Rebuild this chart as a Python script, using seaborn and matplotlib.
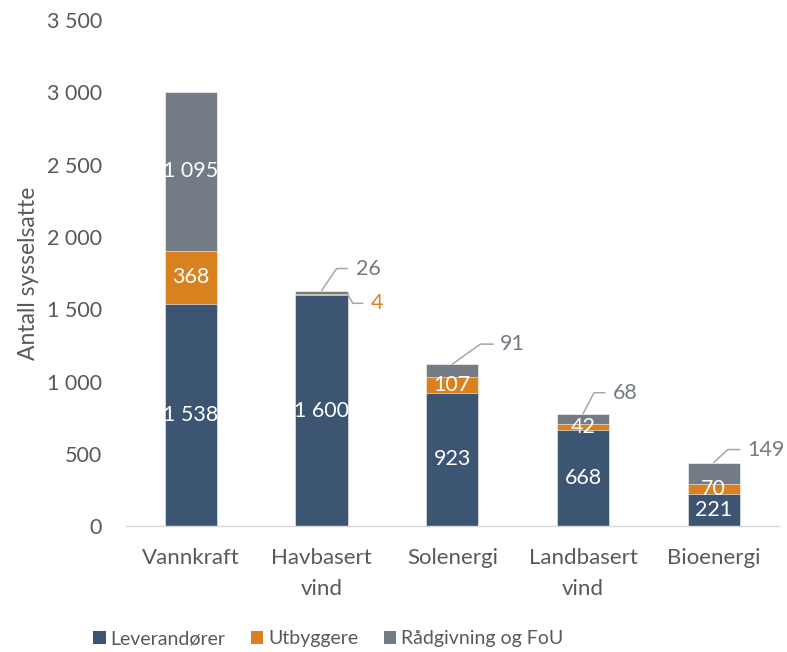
import matplotlib
matplotlib.use("Agg")
import matplotlib.pyplot as plt
import seaborn as sns
import pandas as pd
import numpy as np
from matplotlib.patches import Patch

categories = ["Vannkraft", "Havbasert\nvind", "Solenergi", "Landbasert\nvind", "Bioenergi"]
leverandorer = [1538, 1600, 923, 668, 221]
utbyggere = [368, 4, 107, 42, 70]
radgivning = [1095, 26, 91, 68, 149]
series_names = ["Leverandører", "Utbyggere", "Rådgivning og FoU"]
yticks = [0, 500, 1000, 1500, 2000, 2500, 3000, 3500]

colors = ["#3B5573", "#D9811E", "#737B84"]
txt = "#595959"

sns.set_theme(style="white")
plt.rcParams["font.family"] = ["Lato", "DejaVu Sans"]

df = pd.DataFrame({"kat": categories, "lev": leverandorer, "utb": utbyggere, "rad": radgivning})
df["c1"] = df["lev"]
df["c2"] = df["lev"] + df["utb"]
df["c3"] = df["c2"] + df["rad"]

fig = plt.figure(figsize=(7.87, 6.52), dpi=100)
ax = fig.add_axes([0.1595, 0.193, 0.8305, 0.776])

for col, c in zip(["c3", "c2", "c1"], colors[::-1]):
    sns.barplot(data=df, x="kat", y=col, color=c, width=0.4, ax=ax,
                edgecolor="white", linewidth=0.4, saturation=1)

ax.set_ylim(0, 3500)
ax.set_xlim(-0.5, 4.5)
ax.set_yticks(yticks)
ax.set_yticklabels([f"{v:,}".replace(",", " ") for v in yticks])
ax.tick_params(axis="y", length=0, pad=17, labelsize=15.5, labelcolor=txt)
ax.tick_params(axis="x", length=0, pad=16, labelsize=16, labelcolor=txt)
for lab in ax.get_xticklabels():
    lab.set_linespacing(1.65)
ax.set_xlabel("")
ax.set_ylabel("Antall sysselsatte", fontsize=16.5, color=txt)
ax.yaxis.set_label_coords(-0.133, 0.499)
for s in ["top", "right", "left"]:
    ax.spines[s].set_visible(False)
ax.spines["bottom"].set_color("#D9D9D9")
ax.spines["bottom"].set_linewidth(1.0)

def fmt(v):
    return f"{v:,}".replace(",", " ")

# inside labels
inside = {
    "lev": [0, 1, 2, 3, 4],
    "utb": [0, 2, 3, 4],
    "rad": [0],
}
for key, lo_col in [("lev", None), ("utb", "c1"), ("rad", "c2")]:
    for i in inside[key]:
        lo = 0 if lo_col is None else df[lo_col][i]
        v = df[key][i]
        ax.text(i, lo + v / 2, fmt(v), ha="center", va="center", color="white", fontsize=15.5)

# outside labels with leader lines
fig.canvas.draw()
outside = [
    ("rad", 1, 0.0, "c3", (15, 22), (26, 22), (34, 22), colors[2]),
    ("utb", 1, 0.2, "c2", (5, -9), (15, -9), (23, -9), colors[1]),
    ("rad", 2, 0.0, "c3", (28, 20), (41, 20), (48, 20), colors[2]),
    ("rad", 3, 0.0, "c3", (11, 21), (22, 21), (30, 21), colors[2]),
    ("rad", 4, 0.0, "c3", (14, 13), (26, 13), (34, 13), colors[2]),
]
inv = ax.transData.inverted()
for key, i, adx, col, el, en, lb, c in outside:
    x0, y0 = ax.transData.transform((i + adx, df[col][i]))
    pts = [(x0, y0), (x0 + el[0], y0 + el[1]), (x0 + en[0], y0 + en[1])]
    d = inv.transform(pts)
    ax.plot(d[:, 0], d[:, 1], color="#A6A6A6", lw=1.1, clip_on=False, zorder=5)
    lx, ly = inv.transform((x0 + lb[0], y0 + lb[1]))
    ax.text(lx, ly, fmt(df[key][i]), ha="left", va="center", color=c, fontsize=15.5, clip_on=False)

handles = [Patch(facecolor=c, edgecolor="none") for c in colors]
leg = fig.legend(handles, series_names, loc="center", bbox_to_anchor=(0.417, 0.02), ncol=3,
                 frameon=False, fontsize=14, handlelength=0.65, handleheight=0.65,
                 handletextpad=0.25, columnspacing=1.3, labelcolor=txt)

fig.savefig("out.png", dpi=100)
